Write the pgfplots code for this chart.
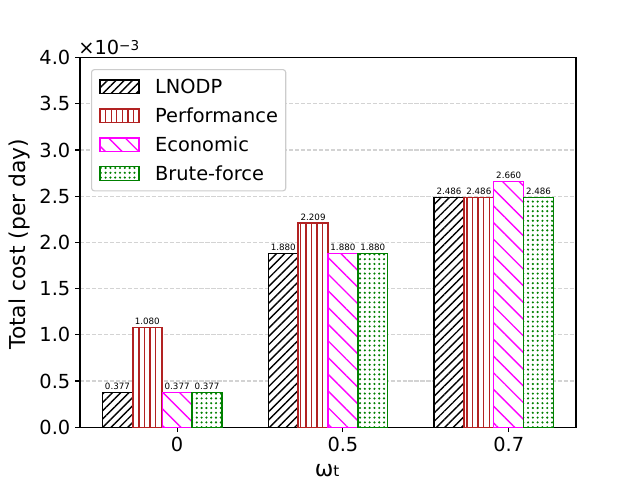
\documentclass[border=0pt]{standalone}
\usepackage{fontspec}
\setmainfont{DejaVu Sans}
\usepackage{pgfplots}
\pgfplotsset{compat=1.18}
\usetikzlibrary{patterns.meta}
\definecolor{perf}{HTML}{B22222}
\definecolor{econ}{HTML}{FF00FF}
\definecolor{brute}{HTML}{008000}
\definecolor{gridc}{HTML}{D3D3D3}
\definecolor{legc}{HTML}{CCCCCC}
\pgfplotsset{mylegend/.style={legend image code/.code={\draw[sharp corners,##1] (0bp,-4.9bp) rectangle (28bp,4.9bp);}}}
\begin{document}
\begin{tikzpicture}
\begin{axis}[
  name=ax,
  scale only axis, width=4.96in, height=3.696in,
  xmin=-0.496, xmax=2.496, ymin=0, ymax=4,
  xtick={0.09,1.09,2.09}, xticklabels={0,0.5,0.7},
  ytick={0,0.5,1,1.5,2,2.5,3,3.5,4},
  y tick label style={/pgf/number format/fixed, /pgf/number format/fixed zerofill, /pgf/number format/precision=1},
  /pgf/number format/assume math mode=true,
  tick label style={font=\fontsize{14}{16}\selectfont},
  tick align=outside, tick pos=left, major tick length=3.5bp,
  every tick/.style={black, line width=0.8bp},
  axis line style={line width=0.8bp},
  ymajorgrids, major grid style={gridc, line width=0.8bp, dash pattern=on 3bp off 1.3bp},
  ybar=0pt, bar width=0.18,
  nodes near coords={\pgfmathprintnumber[fixed,fixed zerofill,precision=3]{\pgfplotspointmeta}},
  every node near coord/.append style={font=\fontsize{6.3}{7}\selectfont, black, inner sep=0.6bp, yshift=0.8bp},
  legend style={at={(0.0222,0.969)}, anchor=north west, draw=legc, line width=0.8bp,
    rounded corners=2bp, fill=white, inner xsep=5.6bp, inner ysep=5.4bp,
    row sep=6.7bp, column sep=11.2bp, font=\fontsize{14}{16}\selectfont,
    cells={anchor=west}, nodes={inner sep=0pt, text height=12.15bp, text depth=1.95bp}},
]
\addplot[mylegend, draw=black, line width=1bp, fill=white,
  postaction={pattern={Lines[angle=45,distance=0.059in,line width=1bp]}, pattern color=black, draw=black, line width=1bp}]
  coordinates {(0,0.377) (1,1.880) (2,2.486)};
\addlegendentry{LNODP}
\addplot[mylegend, draw=perf, line width=1bp, fill=white,
  postaction={pattern={Lines[angle=90,distance=0.0556in,line width=1bp]}, pattern color=perf, draw=perf, line width=1bp}]
  coordinates {(0,1.080) (1,2.209) (2,2.486)};
\addlegendentry{Performance}
\addplot[mylegend, draw=econ, line width=1bp, fill=white,
  postaction={pattern={Lines[angle=-45,distance=0.118in,line width=1bp]}, pattern color=econ, draw=econ, line width=1bp}]
  coordinates {(0,0.377) (1,1.880) (2,2.660)};
\addlegendentry{Economic}
\addplot[mylegend, draw=brute, line width=1bp, fill=white,
  postaction={pattern={Dots[distance=0.048in,radius=0.85bp]}, pattern color=brute, draw=brute, line width=1bp}]
  coordinates {(0,0.377) (1,1.880) (2,2.486)};
\addlegendentry{Brute-force}
\end{axis}
\node[anchor=base, font=\fontsize{15.8}{19}\selectfont, rotate=90, inner sep=0pt] at ([shift={(-0.55in,1.83in)}]ax.south west) {Total cost (per day)};
\node[anchor=base, font=\fontsize{16}{18}\selectfont, inner sep=0pt] at ([shift={(2.47in,-0.49in)}]ax.south west) {ω\fontsize{11}{12}\selectfont t};
\node[anchor=base west, inner sep=0pt, font=\fontsize{14}{16}\selectfont] at ([shift={(-0.02in,0.026in)}]ax.north west) {×10\raisebox{3.2bp}{\fontsize{9.8}{10}\selectfont −3}};
\pgfresetboundingbox
\path[use as bounding box] ([shift={(-0.80in,-0.528in)}]ax.south west) rectangle ([shift={(0.64in,0.576in)}]ax.north east);
\end{tikzpicture}
\end{document}
